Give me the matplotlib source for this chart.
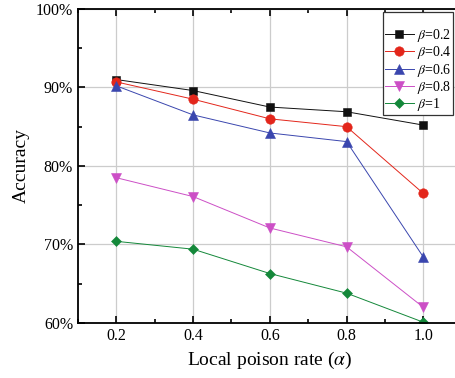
import matplotlib
matplotlib.use("Agg")
import matplotlib.pyplot as plt
from matplotlib.ticker import MultipleLocator, FuncFormatter

plt.rcParams["font.family"] = ["Liberation Serif", "DejaVu Serif"]
plt.rcParams["mathtext.fontset"] = "stix"

alpha = [0.2, 0.4, 0.6, 0.8, 1.0]
acc_b02 = [91.0, 89.6, 87.5, 86.9, 85.2]
acc_b04 = [90.7, 88.5, 86.0, 85.0, 76.5]
acc_b06 = [90.2, 86.5, 84.2, 83.1, 68.4]
acc_b08 = [78.5, 76.1, 72.1, 69.7, 62.0]
acc_b1 = [70.4, 69.4, 66.3, 63.8, 60.1]
labels = [r"$\beta$=0.2", r"$\beta$=0.4", r"$\beta$=0.6", r"$\beta$=0.8", r"$\beta$=1"]

series = [acc_b02, acc_b04, acc_b06, acc_b08, acc_b1]
colors = ["#111111", "#e3261b", "#3a46ae", "#cc4fc6", "#14883a"]
markers = ["s", "o", "^", "v", "D"]
sizes = [6.2, 6.8, 6.8, 6.8, 5.2]

fig = plt.figure(figsize=(4.56, 3.78), dpi=100)
ax = fig.add_axes([0.171, 0.1455, 0.8415, 0.831])

for y, c, m, ms, lb in zip(series, colors, markers, sizes, labels):
    ax.plot(alpha, y, color=c, lw=0.7, marker=m, markersize=ms,
            markerfacecolor=c, markeredgecolor=c, markeredgewidth=0.4, label=lb)

ax.set_xlim(0.1, 1.1)
ax.set_ylim(60, 100)
ax.xaxis.set_major_locator(MultipleLocator(0.2))
ax.xaxis.set_minor_locator(MultipleLocator(0.1))
ax.yaxis.set_major_locator(MultipleLocator(10))
ax.yaxis.set_minor_locator(MultipleLocator(5))
ax.xaxis.set_major_formatter(FuncFormatter(lambda v, p: f"{v:.1f}"))
ax.yaxis.set_major_formatter(FuncFormatter(lambda v, p: f"{v:.0f}%"))
ax.grid(True, which="major", color="#cccccc", lw=0.9)
ax.set_axisbelow(True)
ax.tick_params(which="both", direction="in", top=True, right=False, labelsize=11.5, width=1.2)
ax.tick_params(which="major", length=5)
ax.tick_params(which="minor", length=3)
for s in ax.spines.values():
    s.set_linewidth(1.3)

ax.set_xlabel(r"Local poison rate ($\alpha$)", fontsize=14)
ax.set_ylabel("Accuracy", fontsize=14)

leg = ax.legend(loc="upper right", bbox_to_anchor=(0.977, 0.99), fontsize=10,
                title=" ", title_fontsize=10,
                fancybox=False, edgecolor="#333333", framealpha=1,
                handlelength=2.1, borderpad=0.12, labelspacing=0.02, handletextpad=0.2,
                borderaxespad=0.0)
leg.get_frame().set_linewidth(0.9)

fig.savefig("out.png", dpi=100)
